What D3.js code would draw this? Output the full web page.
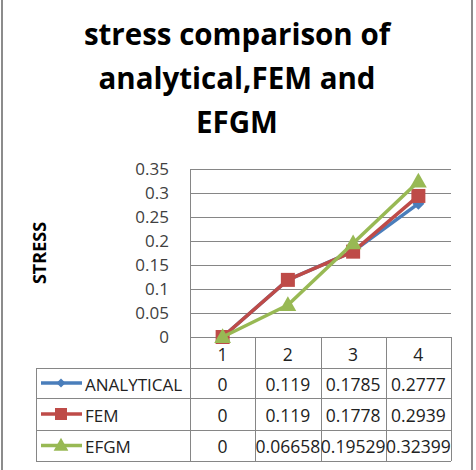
<!DOCTYPE html>
<html>
<head>
<meta charset="utf-8">
<script src="https://cdn.jsdelivr.net/npm/d3@7"></script>
<style>
  html, body { margin: 0; padding: 0; background: #fff; }
  svg { display: block; font-family: "Open Sans", sans-serif; }
</style>
</head>
<body>
<div id="chart"></div>
<script>
// Data
const categories = ["1", "2", "3", "4"];
const analytical = [0, 0.119, 0.1785, 0.2777];
const fem = [0, 0.119, 0.1778, 0.2939];
const efgm = [0, 0.06658, 0.19529, 0.32399];
const valueLabels = [
  ["0", "0.119", "0.1785", "0.2777"],
  ["0", "0.119", "0.1778", "0.2939"],
  ["0", "0.06658", "0.19529", "0.32399"]
];
const seriesNames = ["ANALYTICAL", "FEM", "EFGM"];
const yTicks = [0, 0.05, 0.1, 0.15, 0.2, 0.25, 0.3, 0.35];
const titleLines = ["stress comparison of", "analytical,FEM and", "EFGM"];

const series = [
  { name: seriesNames[0], values: analytical, color: "#4A7EBB", shape: "diamond" },
  { name: seriesNames[1], values: fem, color: "#BE4B48", shape: "square" },
  { name: seriesNames[2], values: efgm, color: "#98B954", shape: "triangle" }
];

const width = 476, height = 470;
const plot = { left: 190, right: 451, top: 169, bottom: 337 };
const rowLines = [337, 368, 398, 430, 461];
const legendLeft = 36;

const svg = d3.select("#chart").append("svg")
  .attr("width", width)
  .attr("height", height);

// Outer frame (left/right sides only visible)
svg.append("line").attr("x1", 2).attr("x2", 2).attr("y1", 0).attr("y2", height)
  .attr("stroke", "#8c8c8c").attr("stroke-width", 2);
svg.append("line").attr("x1", 472).attr("x2", 472).attr("y1", 0).attr("y2", height)
  .attr("stroke", "#8c8c8c").attr("stroke-width", 2);

// Title
svg.append("g").selectAll("text")
  .data(titleLines)
  .enter().append("text")
  .attr("x", 237)
  .attr("y", (d, i) => 45 + i * 44)
  .attr("text-anchor", "middle")
  .attr("font-size", 29.5)
  .attr("font-weight", "bold")
  .attr("fill", "#000")
  .text(d => d);

// Scales
const x = d3.scaleBand().domain(categories).range([plot.left, plot.right]);
const y = d3.scaleLinear().domain([0, 0.35]).range([plot.bottom, plot.top]);

// Gridlines
svg.append("g").selectAll("line")
  .data(yTicks)
  .enter().append("line")
  .attr("x1", plot.left).attr("x2", plot.right)
  .attr("y1", d => Math.round(y(d)) + 0.5).attr("y2", d => Math.round(y(d)) + 0.5)
  .attr("stroke", "#868686").attr("stroke-width", 1);

// Y axis
const yAxis = svg.append("g")
  .attr("transform", `translate(${plot.left},0)`)
  .call(d3.axisLeft(y).tickValues(yTicks).tickSize(0).tickPadding(21).tickFormat(d3.format("~g")));
yAxis.select(".domain").attr("stroke", "#868686");
yAxis.selectAll("text")
  .attr("font-size", 17)
  .attr("font-family", "Open Sans, sans-serif")
  .attr("fill", "#404040");

// Y axis title
svg.append("text")
  .attr("transform", `translate(46,${(plot.top + plot.bottom) / 2}) rotate(-90)`)
  .attr("text-anchor", "middle")
  .attr("font-size", 18)
  .attr("font-weight", "bold")
  .attr("fill", "#000")
  .text("STRESS");

// Data table grid
const grid = svg.append("g").attr("stroke", "#868686").attr("stroke-width", 1);
rowLines.forEach((ry, i) => {
  grid.append("line")
    .attr("x1", i === 0 ? plot.left : legendLeft).attr("x2", plot.right)
    .attr("y1", ry + 0.5).attr("y2", ry + 0.5);
});
x.domain().concat(["end"]).forEach((c, i) => {
  const cx = i < categories.length ? x(c) : plot.right;
  grid.append("line")
    .attr("x1", Math.round(cx) + 0.5).attr("x2", Math.round(cx) + 0.5)
    .attr("y1", rowLines[0]).attr("y2", rowLines[rowLines.length - 1]);
});
grid.append("line")
  .attr("x1", legendLeft + 0.5).attr("x2", legendLeft + 0.5)
  .attr("y1", rowLines[1]).attr("y2", rowLines[rowLines.length - 1]);

// Category labels
svg.append("g").selectAll("text")
  .data(categories)
  .enter().append("text")
  .attr("x", d => x(d) + x.bandwidth() / 2)
  .attr("y", 361)
  .attr("text-anchor", "middle")
  .attr("font-size", 17.5)
  .attr("fill", "#222")
  .text(d => d);

// Value cells
const rowBase = [391, 422, 453];
valueLabels.forEach((row, r) => {
  svg.append("g").selectAll("text")
    .data(row)
    .enter().append("text")
    .attr("x", (d, i) => x(categories[i]) + x.bandwidth() / 2)
    .attr("y", rowBase[r])
    .attr("text-anchor", "middle")
    .attr("font-size", 17.5)
    .attr("fill", "#222")
    .text(d => d);
});

// Markers
function marker(sel, shape, s) {
  if (shape === "diamond") {
    sel.append("path").attr("d", `M0,${-s}L${s},0L0,${s}L${-s},0Z`);
  } else if (shape === "square") {
    sel.append("rect").attr("x", -s).attr("y", -s).attr("width", 2 * s).attr("height", 2 * s);
  } else {
    sel.append("path").attr("d", `M0,${-s * 1.1}L${s * 1.05},${s * 0.75}L${-s * 1.05},${s * 0.75}Z`);
  }
}

const line = d3.line()
  .x((d, i) => x(categories[i]) + x.bandwidth() / 2)
  .y(d => y(d));

series.forEach(s => {
  const g = svg.append("g");
  g.append("path")
    .datum(s.values)
    .attr("d", line)
    .attr("fill", "none")
    .attr("stroke", s.color)
    .attr("stroke-width", 3.5)
    .attr("stroke-linejoin", "round");
  const size = s.shape === "diamond" ? 6 : s.shape === "square" ? 7 : 8;
  g.selectAll("g.pt")
    .data(s.values)
    .enter().append("g")
    .attr("class", "pt")
    .attr("transform", (d, i) => `translate(${x(categories[i]) + x.bandwidth() / 2},${y(d)})`)
    .attr("fill", s.color)
    .each(function() { marker(d3.select(this), s.shape, size); });
});

// Legend keys in table
series.forEach((s, r) => {
  const cy = (rowLines[r + 1] + rowLines[r + 2]) / 2;
  const g = svg.append("g");
  g.append("line")
    .attr("x1", 41).attr("x2", 82)
    .attr("y1", cy).attr("y2", cy)
    .attr("stroke", s.color).attr("stroke-width", 3.5);
  const k = g.append("g").attr("transform", `translate(61,${cy})`).attr("fill", s.color);
  marker(k, s.shape, s.shape === "diamond" ? 4.5 : s.shape === "square" ? 6 : 7);
  g.append("text")
    .attr("x", 85)
    .attr("y", rowBase[r])
    .attr("font-size", 17)
    .attr("fill", "#222")
    .text(s.name);
});
</script>
</body>
</html>
